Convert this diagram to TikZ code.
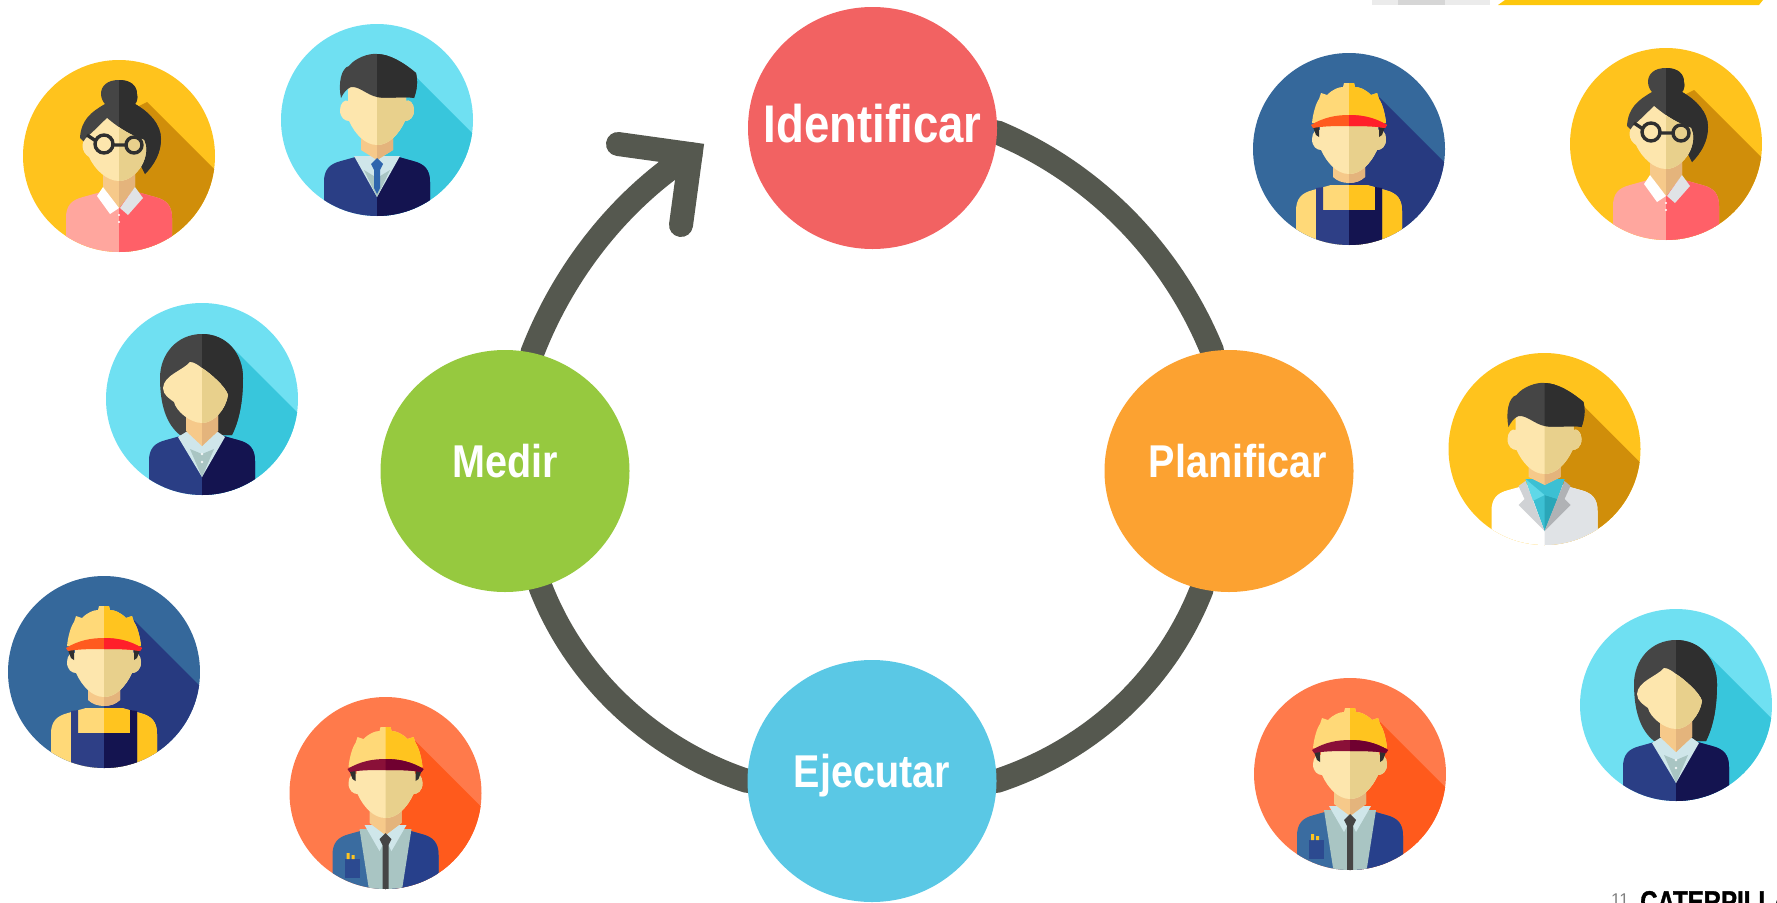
\documentclass[tikz,border=0pt]{standalone}
\usepackage{fontspec}
\usetikzlibrary{shapes.geometric,backgrounds}
\newfontfamily\lab[FakeStretch=0.86]{Liberation Sans}
\newfontfamily\catf[FakeStretch=0.8,FakeBold=1.2]{Liberation Sans}
\setmainfont{Liberation Sans}
\definecolor{ringc}{HTML}{55584F}
\definecolor{cId}{HTML}{F26262}
\definecolor{cMe}{HTML}{96C93F}
\definecolor{cPl}{HTML}{FCA231}
\definecolor{cEj}{HTML}{5AC8E5}
\definecolor{stripY}{HTML}{FDC70C}
\definecolor{bgY}{HTML}{FFC31D}\definecolor{shY}{HTML}{D08E0A}
\definecolor{bgC}{HTML}{6FE0F2}\definecolor{shC}{HTML}{38C6DC}
\definecolor{bgB}{HTML}{35689B}\definecolor{shB}{HTML}{273A80}
\definecolor{bgO}{HTML}{FF7A4B}\definecolor{shO}{HTML}{FF5A1C}
\definecolor{faceL}{HTML}{FDE6AD}\definecolor{faceR}{HTML}{E8D08C}
\definecolor{neckL}{HTML}{F6C98A}\definecolor{neckR}{HTML}{E4B47C}
\definecolor{hairL}{HTML}{454545}\definecolor{hairR}{HTML}{2F2F2F}
\definecolor{hatL}{HTML}{FFD978}\definecolor{hatR}{HTML}{FFC41F}
\definecolor{navyL}{HTML}{2A3E85}\definecolor{navyR}{HTML}{141450}
\definecolor{pinkL}{HTML}{FFA69E}\definecolor{pinkR}{HTML}{FF6068}
\definecolor{brimOL}{HTML}{FF5A1F}\definecolor{brimOR}{HTML}{FF1F2A}
\definecolor{brimRL}{HTML}{8A1038}\definecolor{brimRR}{HTML}{700030}
\definecolor{bibL}{HTML}{2E3F86}\definecolor{bibR}{HTML}{141450}
\definecolor{jackL}{HTML}{3A6CA0}\definecolor{jackR}{HTML}{27408B}
\definecolor{shirtL}{HTML}{CFE6EA}\definecolor{shirtM}{HTML}{A9C5C3}
\definecolor{coatR}{HTML}{E0E3E6}
\definecolor{lapL}{HTML}{D0D2D5}\definecolor{lapR}{HTML}{B0B2B5}
\definecolor{tealA}{HTML}{5FD8E8}\definecolor{tealB}{HTML}{3CC0D3}\definecolor{tealC}{HTML}{2AA6B8}
\definecolor{tieB}{HTML}{2F65AD}
\definecolor{pocket}{HTML}{2C4A90}
\tikzset{
  ringline/.style={draw=ringc,line width=24pt,line cap=round},
  barbline/.style={draw=ringc,line width=24pt,line cap=round,line join=miter},
  bigdisc/.style={ellipse,minimum width=249pt,minimum height=242pt,inner sep=0pt,text=white,font=\lab\bfseries\fontsize{46pt}{50pt}\selectfont},
}
\newcommand\Lbl[2][0pt]{\makebox[0pt]{\smash{\hspace*{#1}\raisebox{-6pt}{#2}}}}
\newcommand\Halves[3]{\fill[#1] #3;\begin{scope}\clip (0,-200) rectangle (200,200);\fill[#2] #3;\end{scope}}
\newcommand\Person[5]{\begin{scope}[shift={(#1,#2)}]
  \clip (0,0) circle (96);
  \fill[#3] (-97,-97) rectangle (97,97);
  \fill[#4] (28,-54) -- (130,48) -- (130,130) -- (0,130) -- (0,-40) -- cycle;
  #5
\end{scope}}
\newcommand\Shoulders[2]{\Halves{#1}{#2}{(-53,100) -- (-53,62) .. controls (-53,50) and (-48,44) .. (-36,41) -- (-18,36) -- (18,36) -- (36,41) .. controls (48,44) and (53,50) .. (53,62) -- (53,100) -- cycle}}
\newcommand\Face{\Halves{faceL}{faceR}{(-37,-10) .. controls (-37,-17) and (-32,-21) .. (-29,-19) -- (-29,-34) -- (29,-34) -- (29,-19) .. controls (32,-21) and (37,-17) .. (37,-10) .. controls (37,-2) and (32,1) .. (28,1) .. controls (22,14) and (12,25) .. (0,25) .. controls (-12,25) and (-22,14) .. (-28,1) .. controls (-32,1) and (-37,-2) .. (-37,-10) -- cycle}}
\newcommand\ShortHair{\Halves{hairL}{hairR}{(-36,-22) .. controls (-39,-36) and (-36,-52) .. (-28,-54) .. controls (-22,-62) and (-8,-67) .. (0,-66) .. controls (12,-66) and (26,-58) .. (39,-47) .. controls (41,-38) and (40,-30) .. (37,-22) .. controls (28,-24) and (10,-21) .. (0,-23) .. controls (-10,-25) and (-18,-34) .. (-26,-33) .. controls (-31,-31) and (-34,-26) .. (-36,-22) -- cycle}}
\newcommand\Helmet[2]{%
  \fill[hairR] (-36,-22) -- (-30,-22) -- (-30,-12) -- (-33,-14) -- cycle;
  \fill[hairR] (36,-22) -- (30,-22) -- (30,-12) -- (33,-14) -- cycle;
  \Halves{hatL}{hatR}{(-37,-26) .. controls (-36,-36) and (-33,-46) .. (-30,-50) -- (-28,-56) -- (-22,-54) .. controls (-16,-60) and (-10,-62) .. (-6,-62) -- (-5,-66) -- (5,-66) -- (6,-62) .. controls (10,-62) and (16,-60) .. (22,-54) -- (28,-56) -- (30,-50) .. controls (33,-46) and (36,-36) .. (37,-26) -- cycle}
  \Halves{#1}{#2}{(-38,-24) .. controls (-25,-32) and (-12,-34) .. (0,-34) .. controls (12,-34) and (25,-32) .. (38,-24) -- (36,-21) .. controls (25,-23) and (12,-23) .. (0,-23) .. controls (-12,-23) and (-25,-23) .. (-36,-21) -- cycle}}
\newcommand\WomanGlasses{%
  \Halves{hairL}{hairR}{(0,-76) .. controls (-12,-76) and (-18,-70) .. (-18,-62) .. controls (-18,-58) and (-16,-54) .. (-14,-52) .. controls (-28,-44) and (-38,-36) .. (-39,-18) -- (-10,10) -- (22,10) -- (26,18) .. controls (36,8) and (42,-4) .. (42,-17) .. controls (42,-32) and (30,-44) .. (16,-52) .. controls (18,-54) and (19,-58) .. (18,-62) .. controls (18,-70) and (12,-76) .. (0,-76) -- cycle}
  \Shoulders{pinkL}{pinkR}
  \Halves{neckL}{neckR}{(-16,10) -- (16,10) -- (16,31) -- (0,52) -- (-16,31) -- cycle}
  \fill[white] (-16,31) -- (0,52) -- (-9,58) -- (-22,40) -- cycle;
  \fill[coatR] (16,31) -- (24,42) -- (9,59) -- (1,52) -- cycle;
  \fill[white] (0,59) circle (1.2) (0,66) circle (1.2);
  \Halves{faceL}{faceR}{(-12,-38) .. controls (-18,-32) and (-26,-24) .. (-33,-18) .. controls (-38,-14) and (-38,-4) .. (-30,1) .. controls (-24,14) and (-12,25) .. (0,25) .. controls (10,25) and (20,16) .. (24,7) .. controls (28,-2) and (28,-10) .. (25,-16) .. controls (14,-20) and (2,-26) .. (-12,-38) -- cycle}
  \draw[hairR,line width=3.4pt] (-15,-12) circle (9) (15,-11) circle (8) (-6,-11) -- (7,-11) (-23,-15) -- (-32,-21);
}
\newcommand\ManSuit{%
  \Shoulders{navyL}{navyR}
  \fill[shirtL] (-23,36) -- (23,36) -- (0,77) -- cycle;
  \fill[shirtM] (-13,50) -- (0,58) -- (13,50) -- (0,77) -- cycle;
  \Halves{neckL}{neckR}{(-16,10) -- (16,10) -- (16,30) -- (0,40) -- (-16,30) -- cycle}
  \fill[tieB] (0,38) -- (6,44) -- (3,50) -- (3,68) -- (0,74) -- (-3,68) -- (-3,50) -- (-6,44) -- cycle;
  \Face
  \ShortHair
}
\newcommand\Woman{%
  \Halves{hairL}{hairR}{(0,-65) .. controls (-25,-65) and (-42,-45) .. (-42,-21) .. controls (-42,5) and (-36,25) .. (-22,36) -- (30,36) .. controls (38,20) and (41,0) .. (41,-21) .. controls (41,-45) and (25,-65) .. (0,-65) -- cycle}
  \Shoulders{navyL}{navyR}
  \fill[shirtL] (-24,38) -- (-16,33) -- (16,33) -- (23,38) -- (0,78) -- cycle;
  \fill[shirtM] (-12,50) -- (0,55) -- (12,50) -- (0,78) -- cycle;
  \fill[white!85!shirtM] (0,55) circle (1.3) (0,63) circle (1.3);
  \Halves{neckL}{neckR}{(-16,5) -- (16,5) -- (16,32) -- (0,47) -- (-16,32) -- cycle}
  \Halves{faceL}{faceR}{(-12,-37) .. controls (-20,-28) and (-38,-24) .. (-39,-11) .. controls (-39,-4) and (-32,0) .. (-28,3) .. controls (-26,12) and (-12,24) .. (0,24) .. controls (12,24) and (24,10) .. (26,-4) .. controls (24,-12) and (8,-26) .. (0,-31) .. controls (-4,-34) and (-8,-37) .. (-12,-37) -- cycle}
}
\newcommand\Doctor{%
  \Shoulders{white}{coatR}
  \fill[tealB] (-19,30) -- (20,30) -- (0,82) -- cycle;
  \fill[tealC] (0,46) -- (13,50) -- (0,82) -- cycle;
  \fill[tealA] (-19,30) -- (0,46) -- (-12,52) -- cycle;
  \fill[tealB] (20,30) -- (0,46) -- (13,50) -- cycle;
  \fill[lapL] (-26,37) -- (-19,32) -- (0,82) -- (-26,56) -- (-20,50) -- cycle;
  \fill[lapR] (26,37) -- (20,32) -- (0,82) -- (26,56) -- (20,50) -- cycle;
  \Halves{neckL}{neckR}{(-16,10) -- (16,10) -- (16,28) -- (0,36) -- (-16,28) -- cycle}
  \Face
  \ShortHair
}
\newcommand\OverallWorker{%
  \Shoulders{hatL}{hatR}
  \Halves{bibL}{bibR}{(-33,100) -- (-33,39) -- (-26,38) -- (-26,61) -- (26,61) -- (26,38) -- (33,39) -- (33,100) -- cycle}
  \Halves{neckL}{neckR}{(-16,10) -- (16,10) -- (16,28) .. controls (8,36) and (-8,36) .. (-16,28) -- cycle}
  \Face
  \Helmet{brimOL}{brimOR}
}
\newcommand\SuitWorker{%
  \Shoulders{jackL}{jackR}
  \fill[shirtM] (-26,36) -- (26,36) -- (16,100) -- (-16,100) -- cycle;
  \fill[shirtL] (-21,32) -- (21,32) -- (6,58) -- (0,46) -- (-6,58) -- cycle;
  \Halves{neckL}{neckR}{(-16,10) -- (16,10) -- (16,30) -- (0,42) -- (-16,30) -- cycle}
  \fill[hairL] (0,40) -- (6,46) -- (3,52) -- (3,100) -- (-3,100) -- (-3,52) -- (-6,46) -- cycle;
  \fill[pocket] (-41,66) rectangle (-26,85);
  \fill[hatR] (-39,60) rectangle (-36,66) (-34,62) rectangle (-31,66);
  \Face
  \Helmet{brimRL}{brimRR}
}
\begin{document}
\begin{tikzpicture}[x=1pt,y=-1pt]
  \useasboundingbox (0,0) rectangle (1777,902);
  \clip (0,0) rectangle (1777,902);
  % top strip
  \fill[black!8] (1372,0) rectangle (1490,5);
  \fill[black!16] (1398,0) rectangle (1445,5);
  \fill[stripY] (1505,0) -- (1763,0) -- (1759,5) -- (1498,5) -- cycle;
  % portraits
  \Person{119}{156}{bgY}{shY}{\WomanGlasses}
  \Person{377}{120}{bgC}{shC}{\ManSuit}
  \Person{202}{399}{bgC}{shC}{\Woman}
  \Person{104}{672}{bgB}{shB}{\OverallWorker}
  \Person{385.5}{793}{bgO}{shO}{\SuitWorker}
  \Person{1349}{149}{bgB}{shB}{\OverallWorker}
  \Person{1666}{144}{bgY}{shY}{\WomanGlasses}
  \Person{1544.5}{449}{bgY}{shY}{\Doctor}
  \Person{1676}{705}{bgC}{shC}{\Woman}
  \Person{1350}{774}{bgO}{shO}{\SuitWorker}
  % cycle nodes
  \node[bigdisc,fill=cId] (id) at (872.5,128) {\makebox[0pt]{\smash{\raisebox{-14pt}{\fontsize{53pt}{56pt}\selectfont Identificar}}}};
  \node[bigdisc,fill=cMe] (me) at (505,471) {\Lbl{Medir}};
  \node[bigdisc,fill=cPl] (pl) at (1229,471) {\Lbl[18pt]{Planificar}};
  \node[bigdisc,fill=cEj] (ej) at (872,781) {\Lbl{Ejecutar}};
  \coordinate (tip) at (690.6,154.1);
  \coordinate (barbA) at (618,144);
  \coordinate (barbB) at (681,225);
  \begin{scope}[on background layer]
    \draw[ringline] (id.358) .. controls +(98,41) and +(-40,-98) .. (pl.98);
    \draw[ringline] (pl.257) .. controls +(-36,92) and +(94,-31) .. (ej.0);
    \draw[ringline] (ej.180) .. controls +(-94,-31) and +(36,92) .. (me.287);
    \draw[ringline] (me.77) .. controls +(31,-80) and +(-72,47) .. (tip);
  \end{scope}
  \draw[barbline] (barbA) -- (tip) -- (barbB);
  % footer
  \node[anchor=base west,inner sep=0pt,text=black!50,font=\fontsize{17pt}{18pt}\selectfont] (pagenum) at (1611,905) {11};
  \node[anchor=base west,inner sep=0pt,text=black,font=\catf\bfseries\fontsize{30pt}{32pt}\selectfont] (logo) at (1640,912) {CATERPILLA};
\end{tikzpicture}
\end{document}
